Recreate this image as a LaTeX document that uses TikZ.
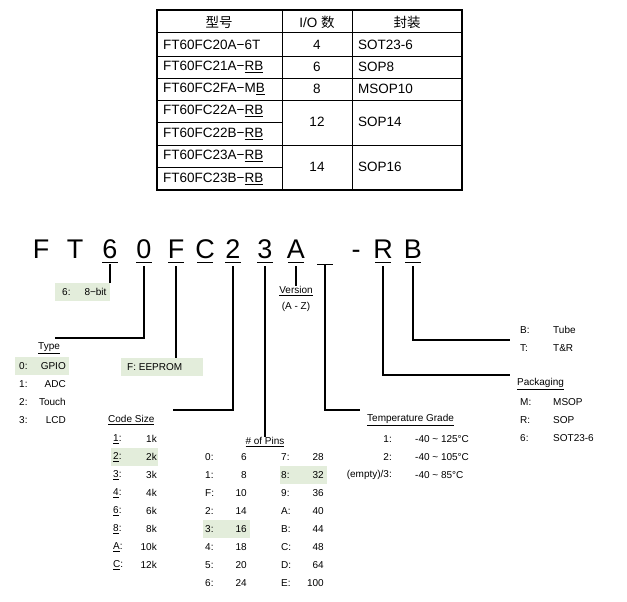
\documentclass[tikz,border=0pt]{standalone}
\usepackage{fontspec}
\setmainfont{Liberation Sans}
\newfontfamily\cjk{Noto Sans CJK SC}
\usetikzlibrary{positioning}
\definecolor{hl}{HTML}{E3EDDB}
\tikzset{
  txt/.style={inner sep=0pt,font=\fontsize{10}{12}\selectfont},
  cell/.style={inner sep=0pt,font=\fontsize{13.5}{15}\selectfont},
  big/.style={inner sep=0pt,anchor=base,font=\fontsize{27}{30}\selectfont},
  lead/.style={line width=1.3pt},
  hlbox/.style={fill=hl,draw=none}
}
\begin{document}
\begin{tikzpicture}[x=1pt,y=-1pt]
\useasboundingbox (0,0) rectangle (627,602);
% table
\draw[line width=1.2pt] (157,10) rectangle (462,190);
\draw[line width=1pt] (157,33) -- (462,33);
\foreach \y in {56,78,100,145} \draw (157,\y) -- (462,\y);
\foreach \y in {122,167} \draw (157,\y) -- (282,\y);
\draw (282,10) -- (282,190);
\draw (352,10) -- (352,190);
\node[cell] (h1) at (219,22) {\cjk 型号};
\node[cell] (h2) at (317,22) {I/O \cjk 数};
\node[cell] (h3) at (407,22) {\cjk 封装};
\foreach \n/\y/\t in {r1/45/FT60FC20A\textminus6T, r2/67/FT60FC21A\textminus\underline{RB},
  r3/89/FT60FC2FA\textminus M\underline{B}, r4/111/FT60FC22A\textminus\underline{RB},
  r5/134/FT60FC22B\textminus\underline{RB}, r6/156/FT60FC23A\textminus\underline{RB},
  r7/179/FT60FC23B\textminus\underline{RB}}
  \node[cell,anchor=west] (\n) at (163,\y) {\t};
\foreach \n/\y/\a/\b in {p1/45/4/SOT23-6, p2/67/6/SOP8, p3/89/8/MSOP10, p4/122/12/SOP14, p5/167/14/SOP16} {
  \node[cell] (\n io) at (317,\y) {\a};
  \node[cell,anchor=west] (\n pk) at (358,\y) {\b};
}
% part number
\foreach \n/\x/\c in {f/41/F, t/75/T, six/110/6, zero/144/0, ff/176/F, c/205/C, two/233/2, three/265/3, a/296/A, dash/356/-, r/383/R, b/413/B}
  \node[big] (\n) at (\x,258) {\c};
\foreach \n in {six,zero,ff,c,two,three,a,r,b}
  \draw[line width=1pt] ([xshift=-8pt,yshift=-4pt]\n.base) -- ([xshift=8pt,yshift=-4pt]\n.base);
\coordinate (blank) at (325,264);
\draw[line width=1pt] (317,264) -- (333,264);
% 8-bit
\fill[hl] (55,283) rectangle (110,301);
\node[txt,anchor=west] (bit) at (62,292) {6:\hspace{14pt}8\textminus bit};
\draw[lead] (six.base)++(0,6) -- (110,283);
% type
\node[txt,anchor=west] (type) at (38,348) {\underline{Type}};
\draw[lead] (144,266) -- (144,338) -- (55,338);
\fill[hl] (15,357) rectangle (69,375);
\foreach \y/\k/\v in {366/0/GPIO, 384/1/ADC, 402/2/Touch, 420/3/LCD} {
  \node[txt,anchor=west] (ty\k) at (19,\y) {\k:};
  \node[txt,anchor=east] (tv\k) at (66,\y) {\v};
}
% memory
\fill[hl] (121,358) rectangle (203,376);
\node[txt,anchor=west] (mem) at (127,367) {F: EEPROM};
\draw[lead] (176,266) -- (176,358);
% code size
\node[txt,anchor=west] (code) at (108,420) {\underline{Code Size}};
\draw[lead] (233,266) -- (233,410) -- (173,410);
\fill[hl] (111,448) rectangle (158,466);
\foreach \i/\k/\v in {0/1/1k, 1/2/2k, 2/3/3k, 3/4/4k, 4/6/6k, 5/8/8k, 6/A/10k, 7/C/12k} {
  \node[txt,anchor=west] (cs\i) at (113,439+18*\i) {\underline{\k}:};
  \node[txt,anchor=east] (cv\i) at (157,439+18*\i) {\v};
}
% pins
\node[txt,anchor=north] (pins) at (265,437) {\underline{\# of Pins}};
\draw[lead] (265,266) -- (pins.north);
\fill[hl] (203,520) rectangle (250,538);
\fill[hl] (280,466) rectangle (327,484);
\foreach \i/\k/\v in {0/0/6, 1/1/8, 2/F/10, 3/2/14, 4/3/16, 5/4/18, 6/5/20, 7/6/24} {
  \node[txt,anchor=west] (pa\i) at (205,457+18*\i) {\k:};
  \node[txt,anchor=east] (pv\i) at (247,457+18*\i) {\v};
}
\foreach \i/\k/\v in {0/7/28, 1/8/32, 2/9/36, 3/A/40, 4/B/44, 5/C/48, 6/D/64, 7/E/100} {
  \node[txt,anchor=west] (pb\i) at (281,457+18*\i) {\k:};
  \node[txt,anchor=east] (pw\i) at (324,457+18*\i) {\v};
}
% version
\node[txt,anchor=north] (ver) at (296,286) {\underline{Version}};
\node[txt,below=6pt of ver] (az) {(A - Z)};
\draw[lead] (296,266) -- (ver.north);
% temperature
\node[txt,anchor=west] (temp) at (367,420) {\underline{Temperature Grade}};
\draw[lead] (blank) -- (325,410) -- (360,410);
\foreach \i/\k/\v in {0/{1:}/-40 \textasciitilde{} 125\textdegree C, 1/{2:}/-40 \textasciitilde{} 105\textdegree C, 2/{(empty)/3:}/-40 \textasciitilde{} 85\textdegree C} {
  \node[txt,anchor=east] (tg\i) at (392,439+18*\i) {\k};
  \node[txt,anchor=west] (tt\i) at (415,439+18*\i) {\v};
}
% packing
\draw[lead] (413,266) -- (413,340) -- (510,340);
\node[txt,anchor=west] (tb) at (520,330) {B:};
\node[txt,anchor=west] (tbv) at (553,330) {Tube};
\node[txt,anchor=west] (tr) at (520,348) {T:};
\node[txt,anchor=west] (trv) at (553,348) {T\&R};
% packaging
\draw[lead] (383,266) -- (383,375) -- (510,375);
\node[txt,anchor=west] (pkg) at (517,384) {\underline{Packaging}};
\foreach \i/\k/\v in {0/M/MSOP, 1/R/SOP, 2/6/SOT23-6} {
  \node[txt,anchor=west] (pk\i) at (520,402+18*\i) {\k:};
  \node[txt,anchor=west] (pkv\i) at (553,402+18*\i) {\v};
}
\end{tikzpicture}
\end{document}
